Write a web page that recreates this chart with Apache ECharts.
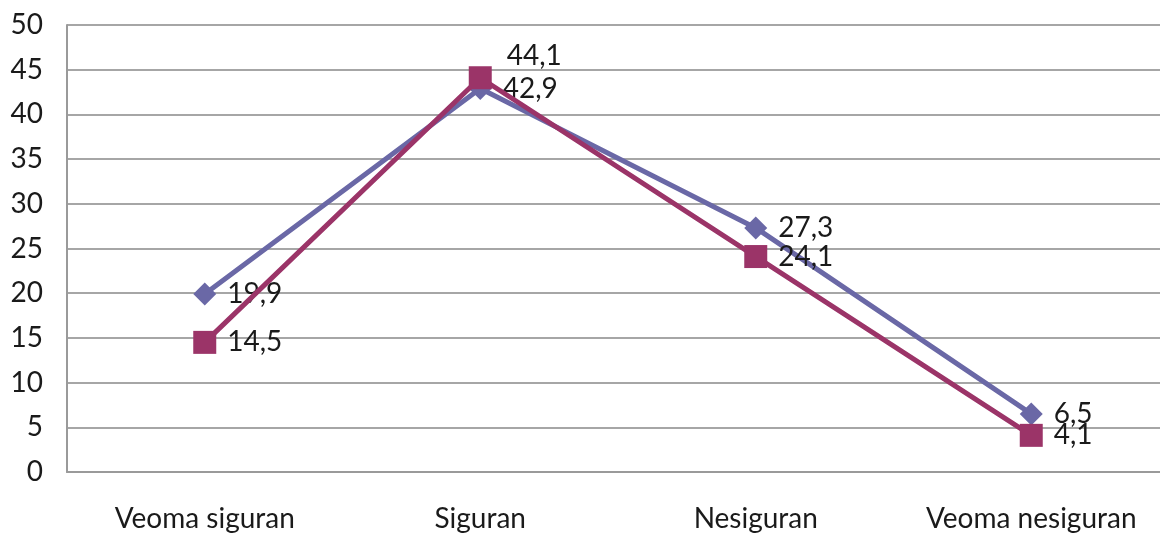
<!DOCTYPE html>
<html>
<head>
<meta charset="utf-8">
<script src="https://cdn.jsdelivr.net/npm/echarts@6/dist/echarts.min.js"></script>
<style>
  html, body { margin: 0; padding: 0; background: #fff; }
  #chart { width: 1160px; height: 533px; }
</style>
</head>
<body>
<div id="chart"></div>
<script>
const categories = ['Veoma siguran', 'Siguran', 'Nesiguran', 'Veoma nesiguran']
const seriesA = [19.9, 42.9, 27.3, 6.5]
const seriesB = [14.5, 44.1, 24.1, 4.1]

const fmt = v => String(v).replace('.', ',')
const chart = echarts.init(document.getElementById('chart'))

const labelStyle = {
  show: true,
  position: 'right',
  distance: 11,
  fontFamily: 'Lato',
  fontSize: 28,
  color: '#1a1a1a',
  formatter: p => fmt(p.value),
}

chart.setOption({
  animation: false,
  grid: { left: 67, top: 25, bottom: 61, width: 1102, outerBoundsMode: 'none', containLabel: false },
  xAxis: {
    type: 'category',
    data: categories,
    boundaryGap: true,
    axisLine: { lineStyle: { color: '#9a9a9a', width: 2 } },
    axisTick: { show: false },
    axisLabel: { margin: 33, fontFamily: 'Lato', fontSize: 28, color: '#1a1a1a' },
  },
  yAxis: {
    type: 'value',
    min: 0,
    max: 50,
    interval: 5,
    axisLine: { show: true, lineStyle: { color: '#9a9a9a', width: 2 } },
    axisTick: { show: false },
    axisLabel: { margin: 24, fontFamily: 'Lato', fontSize: 28, color: '#1a1a1a' },
    splitLine: { lineStyle: { color: '#a6a6a6', width: 2 } },
  },
  series: [
    {
      type: 'line',
      data: seriesA,
      symbol: 'diamond',
      symbolSize: 23,
      lineStyle: { color: '#6a68a6', width: 5 },
      itemStyle: { color: '#6a68a6' },
      label: labelStyle,
      z: 2,
    },
    {
      type: 'line',
      data: seriesB.map((v, i) => i === 1
        ? { value: v, label: { offset: [4, -22] } }
        : v),
      symbol: 'rect',
      symbolSize: 23,
      lineStyle: { color: '#9b3468', width: 5 },
      itemStyle: { color: '#9b3468' },
      label: labelStyle,
      z: 3,
    },
  ],
})
</script>
</body>
</html>
